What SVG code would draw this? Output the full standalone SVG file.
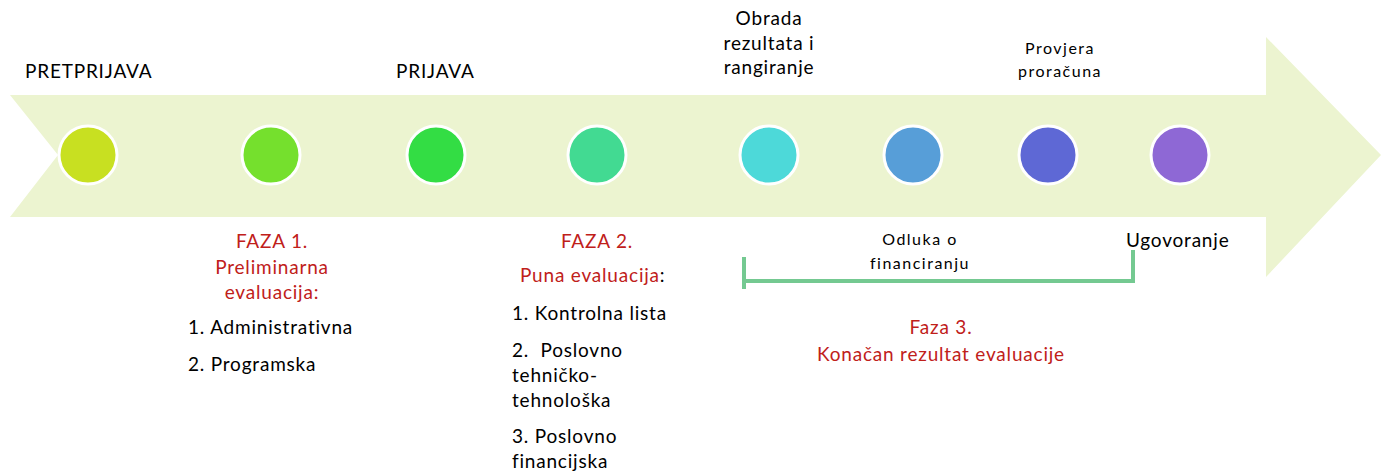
<svg xmlns="http://www.w3.org/2000/svg" width="1381" height="472" viewBox="0 0 1381 472">
<style>
text{font-family:Lato,"Open Sans","Liberation Sans",sans-serif;fill:#000;font-size:19px;letter-spacing:0.8px}
.r{fill:#C0201A}
.m{text-anchor:middle}
.s{font-size:16px;letter-spacing:1.5px}
.dot{stroke:#fff;stroke-width:3}
.br{fill:none;stroke:#74C991;stroke-width:4}
</style>
<rect width="1381" height="472" fill="#fff"/>
<g id="band">
<path d="M10,95 L1266,95 L1266,37 L1381,155 L1266,277 L1266,217 L10,217 L58,155 Z" fill="#ECF4D0"/>
</g>
<g id="n1"><circle class="dot" cx="88" cy="155" r="29" fill="#C8E021"/><text x="25" y="78">PRETPRIJAVA</text></g>
<g id="n2"><circle class="dot" cx="271" cy="155" r="29" fill="#75E02D"/>
<text class="r m" x="272" y="248">FAZA 1.</text>
<text class="r m" x="272" y="274">Preliminarna</text>
<text class="r m" x="272" y="299">evaluacija:</text>
<text x="188" y="334">1. Administrativna</text>
<text x="188" y="371">2. Programska</text></g>
<g id="n3"><circle class="dot" cx="436" cy="155" r="29" fill="#33DD44"/><text x="396" y="78">PRIJAVA</text></g>
<g id="n4"><circle class="dot" cx="597" cy="155" r="29" fill="#42DA92"/>
<text class="r m" x="597" y="248">FAZA 2.</text>
<text x="520" y="282"><tspan class="r">Puna evaluacija</tspan>:</text>
<text x="512" y="320">1. Kontrolna lista</text>
<text x="512" y="357" xml:space="preserve" style="white-space:pre">2.  Poslovno</text>
<text x="512" y="382">tehničko-</text>
<text x="512" y="407">tehnološka</text>
<text x="512" y="443">3. Poslovno</text>
<text x="512" y="468">financijska</text></g>
<g id="n5"><circle class="dot" cx="769" cy="155" r="29" fill="#4DD9D9"/>
<text class="m" x="769" y="25">Obrada</text>
<text class="m" x="769" y="50">rezultata i</text>
<text class="m" x="769" y="74">rangiranje</text></g>
<g id="n6"><circle class="dot" cx="913" cy="155" r="29" fill="#579ED8"/>
<text class="m s" x="920" y="245">Odluka o</text>
<text class="m s" x="920" y="269">financiranju</text></g>
<g id="n7"><circle class="dot" cx="1048" cy="155" r="29" fill="#5E68D5"/>
<text class="m s" x="1060" y="54">Provjera</text>
<text class="m s" x="1060" y="77">proračuna</text></g>
<g id="n8"><circle class="dot" cx="1180" cy="155" r="29" fill="#8E68D5"/>
<text x="1126" y="247">Ugovoranje</text></g>
<g id="connectors">
<path class="br" d="M744,257 L744,289 M744,281 L1133,281 L1133,250"/>
</g>
<g id="phase3">
<text class="r m" x="941" y="334">Faza 3.</text>
<text class="r m" x="941" y="361">Konačan rezultat evaluacije</text>
</g>
</svg>
